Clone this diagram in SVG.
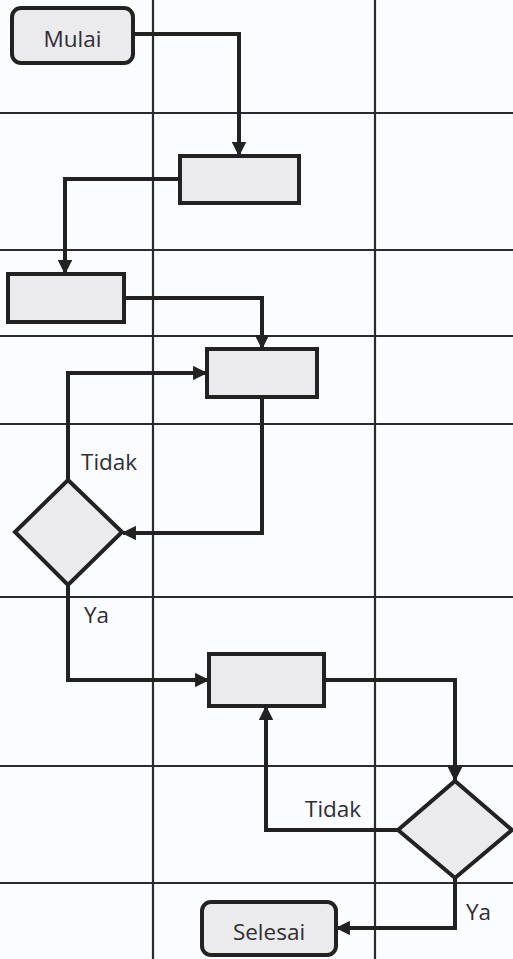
<svg xmlns="http://www.w3.org/2000/svg" width="513" height="959" viewBox="0 0 513 959">
<defs>
<marker id="arr" viewBox="0 0 10 10" refX="9" refY="5" markerWidth="3.6" markerHeight="3.6" orient="auto" markerUnits="strokeWidth">
<path d="M0,0 L10,5 L0,10 z" fill="#222"/>
</marker>
<style>
.grid{stroke:#2a2a30;stroke-width:2.2;fill:none}
.shape{fill:#ebebee;stroke:#222;stroke-width:4}
.conn{fill:none;stroke:#222;stroke-width:4;marker-end:url(#arr)}
.lbl{font-family:"Open Sans","Liberation Sans",sans-serif;font-size:22.5px;fill:#2e2e33}
</style>
</defs>
<rect width="513" height="959" fill="#fbfcff"/>
<g id="grid">
<line class="grid" x1="153" y1="0" x2="153" y2="959"/>
<line class="grid" x1="375" y1="0" x2="375" y2="959"/>
<line class="grid" x1="0" y1="113" x2="513" y2="113"/>
<line class="grid" x1="0" y1="250" x2="513" y2="250"/>
<line class="grid" x1="0" y1="336" x2="513" y2="336"/>
<line class="grid" x1="0" y1="424" x2="513" y2="424"/>
<line class="grid" x1="0" y1="597" x2="513" y2="597"/>
<line class="grid" x1="0" y1="766" x2="513" y2="766"/>
<line class="grid" x1="0" y1="883" x2="513" y2="883"/>
</g>
<g id="connectors">
<path class="conn" d="M133,34 H239 V155"/>
<path class="conn" d="M180,179 H65 V273"/>
<path class="conn" d="M124,298 H262 V348"/>
<path class="conn" d="M68,480 V373 H206"/>
<path class="conn" d="M262,397 V533 H123"/>
<path class="conn" d="M68,585 V680 H208"/>
<path class="conn" d="M324,680 H455 V780"/>
<path class="conn" d="M398,830 H266 V707"/>
<path class="conn" d="M455,878 V928 H337"/>
</g>
<g id="start">
<rect class="shape" x="12" y="8" width="121" height="55" rx="9"/>
<text class="lbl" x="72.5" y="47" text-anchor="middle">Mulai</text>
</g>
<g id="process1"><rect class="shape" x="180" y="156" width="119" height="47"/></g>
<g id="process2"><rect class="shape" x="8" y="274" width="116" height="48"/></g>
<g id="process3"><rect class="shape" x="207" y="349" width="110" height="48"/></g>
<g id="decision1"><polygon class="shape" points="68,480 122,532 68,585 15,532"/></g>
<g id="process4"><rect class="shape" x="209" y="654" width="115" height="52"/></g>
<g id="decision2"><polygon class="shape" points="455,781 512,830 455,878 398,830"/></g>
<g id="end">
<rect class="shape" x="202" y="902" width="134" height="53" rx="9"/>
<text class="lbl" x="269" y="940" text-anchor="middle">Selesai</text>
</g>
<g id="labels">
<text class="lbl" x="81" y="470">Tidak</text>
<text class="lbl" x="84" y="623">Ya</text>
<text class="lbl" x="305" y="817">Tidak</text>
<text class="lbl" x="466" y="920">Ya</text>
</g>
</svg>
